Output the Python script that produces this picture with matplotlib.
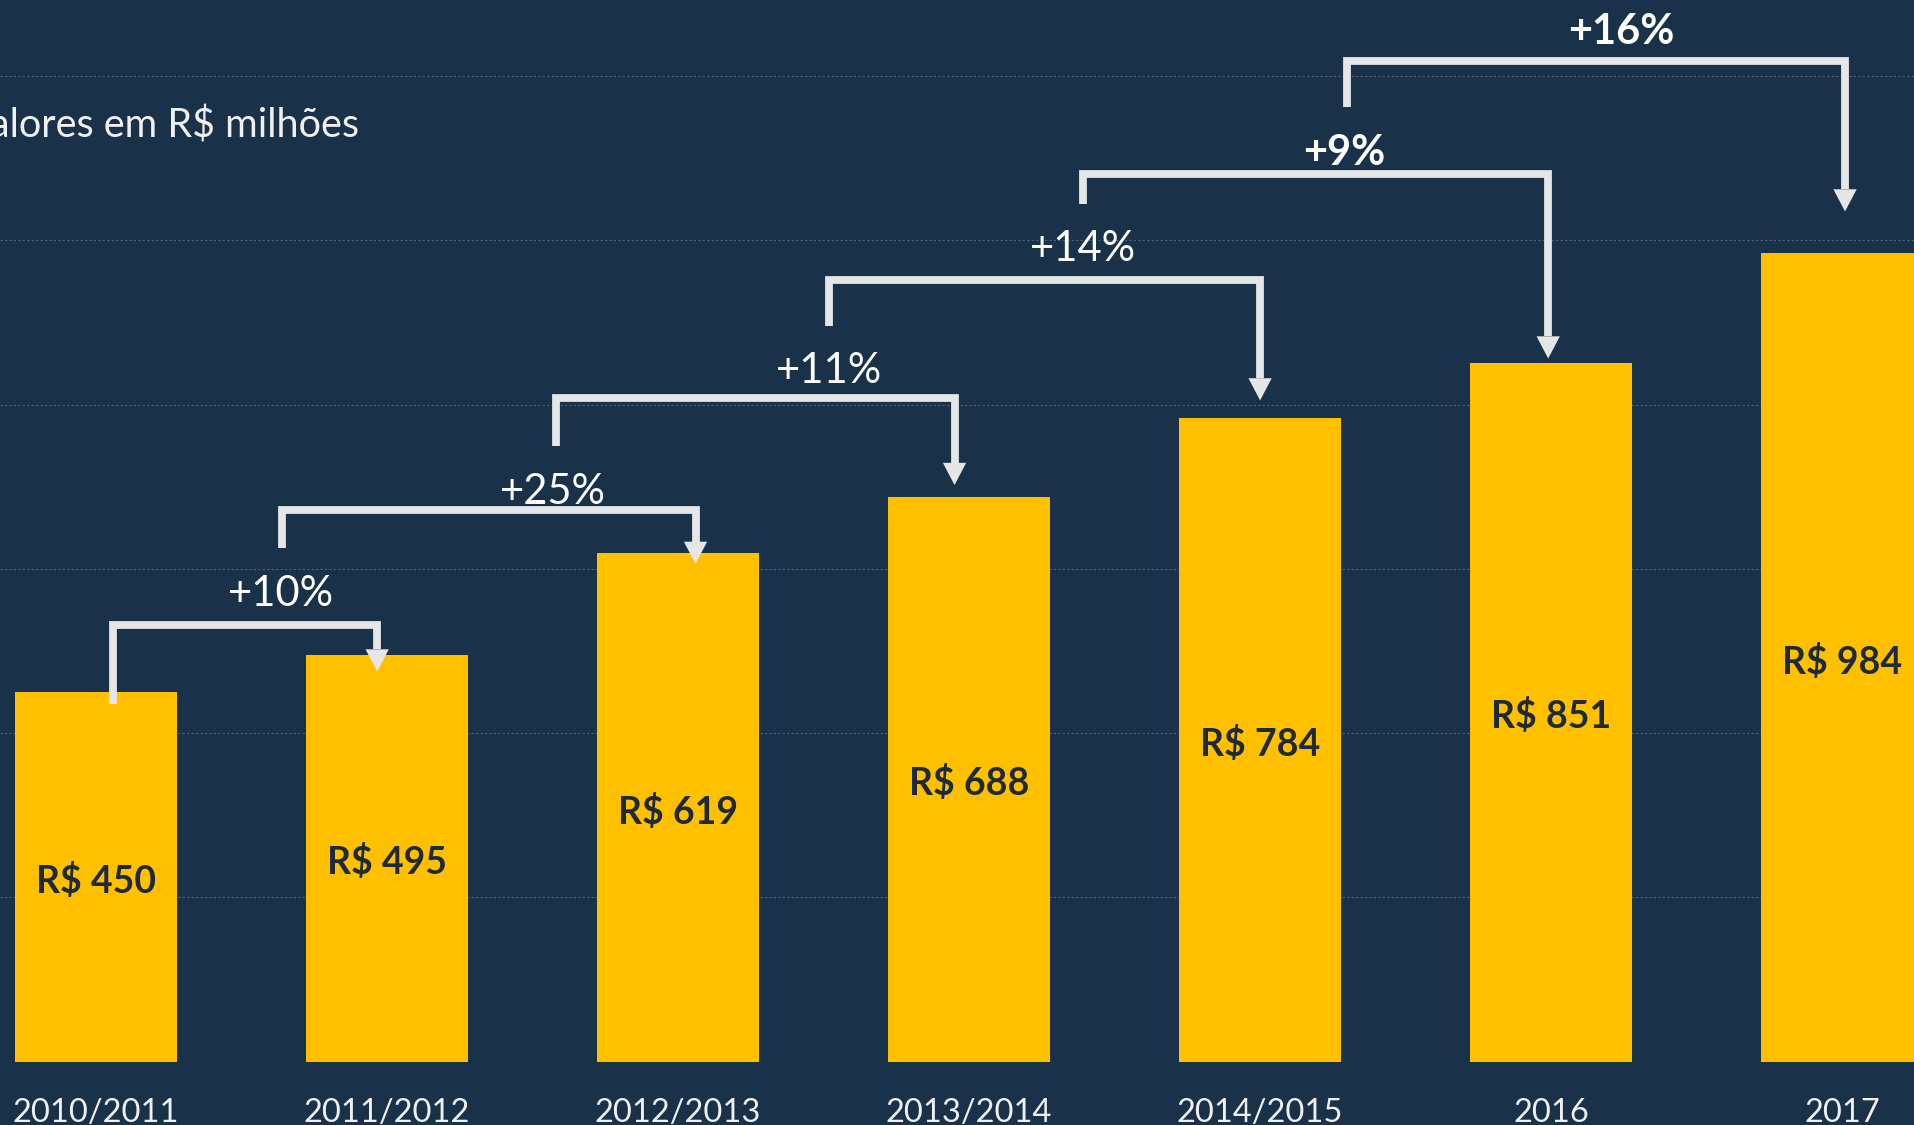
import matplotlib.pyplot as plt

categories = ['2010/2011', '2011/2012', '2012/2013', '2013/2014', '2014/2015', '2016', '2017']
values = [450, 495, 619, 688, 784, 851, 984]
growth = ['+10%', '+25%', '+11%', '+14%', '+9%', '+16%']
growth_bold = [False, False, False, False, True, True]

# connectors were placed by hand in the original slide:
# (x start, y start, y level, x end, y arrow tip)
brackets = [
    (0.06, 435, 532, 0.966, 475),
    (0.64, 625, 671, 2.06, 606),
    (1.58, 750, 808, 2.95, 702),
    (2.52, 896, 952, 4.00, 805),
    (3.39, 1044, 1080, 4.99, 856),
    (4.30, 1162, 1218, 6.01, 1035),
]
label_xy = [(0.635, 569), (1.57, 693), (2.52, 841), (3.39, 989), (4.29, 1106), (5.24, 1254)]

bg = '#19324A'
gold = '#FFC000'
line_col = '#E6E6E6'
font = 'Lato'

fig = plt.figure(figsize=(19.14, 11.25), dpi=100, facecolor=bg)
base = (1125 - 1061.7) / 1125
ax = fig.add_axes([0, base, 1, 1 - base])
ax.set_facecolor(bg)
ax.set_xlim(-0.33, 6.247)
ax.set_ylim(0, 1292.4)

x = range(len(values))
ax.bar(x, values, width=0.557, color=gold, zorder=2)

for i, v in enumerate(values):
    ax.text(i, v / 2 - 5, f'R$ {v}', ha='center', va='center', fontsize=27,
            fontweight='bold', color='#1E2A38', family=font, zorder=3)

hw, hh = 0.04, 27
for (x0, y0, yl, x1, yt), lab, (lx, ly), b in zip(brackets, growth, label_xy, growth_bold):
    ax.plot([x0, x0, x1, x1], [y0, yl, yl, yt + hh], color=line_col, lw=5.6,
            solid_capstyle='butt', solid_joinstyle='miter', zorder=4)
    ax.fill([x1 - hw, x1 + hw, x1], [yt + hh, yt + hh, yt], color=line_col, lw=0, zorder=4)
    ax.text(lx, ly, lab, ha='center', va='center', fontsize=30, color='white',
            fontweight='bold' if b else 'normal', family=font, zorder=5)

ax.set_yticks(range(0, 1201, 200))
ax.grid(True, axis='y', color='#5A7088', lw=0.8, linestyle=(0, (2, 2)), alpha=0.8)
ax.set_axisbelow(True)
ax.set_xticks(list(x))
ax.set_xticklabels(categories, fontsize=23.5, color='#F0F0F0', family=font)
ax.tick_params(axis='x', length=0, pad=26)
ax.tick_params(axis='y', length=0, labelleft=False)
for s in ax.spines.values():
    s.set_visible(False)

fig.text(-0.0195, 1 - 125 / 1125, 'Valores em R$ milhões', ha='left', va='center',
         fontsize=28.5, color='#F0F0F0', family=font)

fig.savefig('out.png', dpi=100, facecolor=bg)
